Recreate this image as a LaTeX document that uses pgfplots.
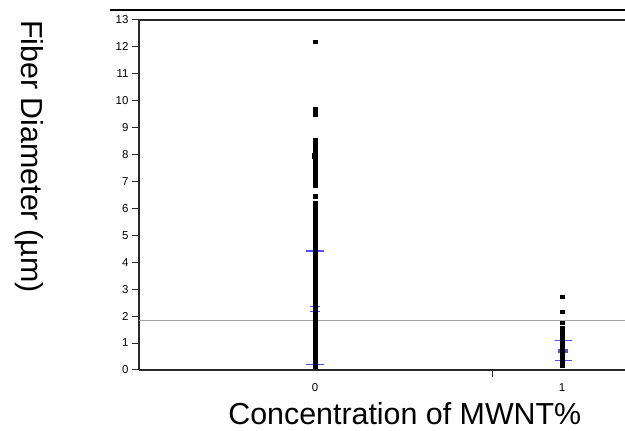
\documentclass[border=0pt]{standalone}
\usepackage{pgfplots}
\pgfplotsset{compat=1.18}
\usepackage{fontspec}
\setmainfont{Liberation Sans}
\definecolor{sdblue}{RGB}{80,80,255}
\definecolor{meangray}{RGB}{165,165,165}
\definecolor{axisblack}{RGB}{40,40,40}

\begin{document}
\begin{tikzpicture}
\begin{axis}[
  scale only axis,
  width=486bp, height=350bp,
  xmin=-0.7126, xmax=1.255,
  ymin=0, ymax=13,
  axis x line*=bottom,
  axis y line*=left,
  axis line style={-, draw=axisblack, line width=1.2bp},
  tick align=outside,
  major tick length=7bp,
  tick style={axisblack, line width=1bp},
  ytick={0,1,...,13},
  xtick={0.72},
  xticklabels={},
  extra x ticks={0,1},
  extra x tick labels={0,1},
  extra x tick style={major tick length=0pt, xticklabel style={yshift=-10bp}},
  /pgf/number format/assume math mode=true,
  tick label style={font=\fontsize{11.5}{13}\selectfont},
  xlabel={Concentration of MWNT\%},
  ylabel={Fiber Diameter (\textmu m)},
  label style={font=\fontsize{30.5}{34}\selectfont},
  xlabel style={at={(rel axis cs:0.547,-0.155)}, anchor=base},
  ylabel style={at={(rel axis cs:-0.226,0.61)}, anchor=center, rotate=180},
  clip=false,
]
% grand mean
\addplot[meangray, line width=1.3bp] coordinates {(-0.7126,1.83) (1.255,1.83)};

% individual fiber diameters, 0 % MWNT
\addplot[only marks, mark=square*, mark size=1.75bp, black] coordinates {
(0,12.20) (0,9.68) (0,9.50) (0,8.55) (0,8.45) (0,8.38) (0,8.20) (0,8.02)
(0,7.97) (0,7.92) (0,7.80) (0,7.62) (0,7.45) (0,7.38) (0,7.30) (0,7.22)
(0,7.15) (0,7.08) (0,7.00) (0,6.93) (0,6.87) (0,6.46) (0,6.19) (0,6.02)
(0,5.94) (0,5.86) (0,5.78) (0,5.70) (0,5.62) (0,5.54) (0,5.46) (0,5.38)
(0,5.30) (0,5.22) (0,5.14) (0,5.06) (0,4.98) (0,4.90) (0,4.82) (0,4.74)
(0,4.66) (0,4.58) (0,4.50) (0,4.42) (0,4.34) (0,4.26) (0,4.18) (0,4.10)
(0,4.02) (0,3.94) (0,3.86) (0,3.78) (0,3.70) (0,3.62) (0,3.54) (0,3.46)
(0,3.38) (0,3.30) (0,3.22) (0,3.14) (0,3.06) (0,2.98) (0,2.90) (0,2.82)
(0,2.74) (0,2.66) (0,2.58) (0,2.50) (0,2.42) (0,2.34) (0,2.26) (0,2.18)
(0,2.10) (0,2.02) (0,1.94) (0,1.86) (0,1.78) (0,1.70) (0,1.62) (0,1.54)
(0,1.46) (0,1.38) (0,1.30) (0,1.22) (0,1.14) (0,1.06) (0,0.98) (0,0.90)
(0,0.82) (0,0.74) (0,0.66) (0,0.58) (0,0.50) (0,0.42) (0,0.34) (0,0.26)
(0,0.18) (0,0.12)
};
% slightly heavier spot where many fibres coincide
\addplot[only marks, mark=square*, mark size=2.4bp, black] coordinates {(0,7.97)};

% individual fiber diameters, 1 % MWNT
\addplot[only marks, mark=square*, mark size=1.75bp, black] coordinates {
(1,2.72) (1,2.17) (1,1.76) (1,1.56) (1,1.49) (1,1.42) (1,1.35) (1,1.28)
(1,1.21) (1,1.14) (1,1.07) (1,1.00) (1,0.93) (1,0.86) (1,0.79) (1,0.72)
(1,0.65) (1,0.58) (1,0.51) (1,0.44) (1,0.37) (1,0.30) (1,0.23) (1,0.16)
};

% std dev lines and mean error bars
\addplot[sdblue, line width=1.5bp] coordinates {(-0.036,4.41) (0.036,4.41)};
\addplot[sdblue, line width=1.5bp] coordinates {(-0.036,0.21) (0.036,0.21)};
\addplot[sdblue, line width=1.5bp] coordinates {(-0.022,2.35) (0.022,2.35)};
\addplot[sdblue, line width=1.5bp] coordinates {(-0.022,2.17) (0.022,2.17)};
\addplot[sdblue, line width=1.5bp] coordinates {(0.97,1.09) (1.04,1.09)};
\addplot[sdblue, line width=1.5bp] coordinates {(0.97,0.35) (1.04,0.35)};
\addplot[sdblue, line width=1.5bp] coordinates {(0.985,0.765) (1.025,0.765)};
\addplot[sdblue, line width=1.5bp] coordinates {(0.985,0.72) (1.025,0.72)};
\addplot[sdblue, line width=1.5bp] coordinates {(0.985,0.675) (1.025,0.675)};

% upper frame lines
\draw[axisblack, line width=1.2bp] (rel axis cs:0,1) -- (rel axis cs:1,1);
\draw[black, line width=1.2bp] (rel axis cs:-0.0597,1.0286) -- (rel axis cs:1,1.0286);

\coordinate (bbA) at (rel axis cs:-0.286,-0.174);
\coordinate (bbB) at (rel axis cs:1,1.057);
\end{axis}
\pgfresetboundingbox
\path (bbA) rectangle (bbB);
\end{tikzpicture}
\end{document}
